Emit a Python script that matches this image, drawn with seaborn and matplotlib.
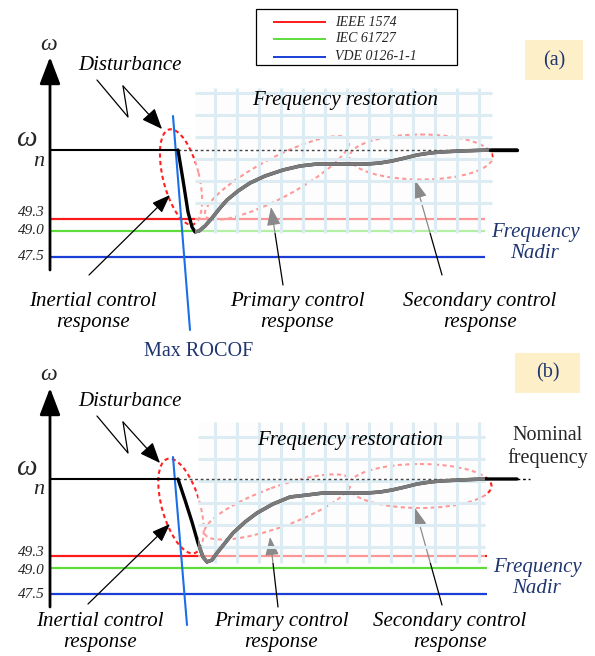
import numpy as np
import pandas as pd
import seaborn as sns
import matplotlib.pyplot as plt
from matplotlib.patches import Ellipse, Rectangle

# schematic drawn in pixel units of the 595x656 canvas
standards = ["IEEE 1574", "IEC 61727", "VDE 0126-1-1"]
std_colors = ["#ff1a1a", "#5fdc3c", "#1a3fd6"]
tick_labels = ["49.3", "49.0", "47.5"]

# level rows (red, green, blue) and nominal row for each panel
levels_a = [219, 231, 257]
levels_b = [556, 568, 594]
label_rows_a = [212, 231, 257]
label_rows_b = [552, 570, 595]
nominal_a = 150
nominal_b = 479

# frequency trajectory, panel (a)
curve_a_x = [178, 183, 188, 192, 195, 199, 205, 212, 220, 227, 238, 250, 265, 283, 300,
             317, 340, 367, 380, 392, 405, 417, 430, 440, 460, 490, 517]
curve_a_y = [150, 180, 212, 227, 232, 231, 226, 218, 208, 200, 191, 183, 176, 170, 166,
             164, 164, 164, 163, 161, 158, 155, 153, 152, 151, 150, 150]
# frequency trajectory, panel (b)
curve_b_x = [178, 185, 192, 198, 203, 207, 212, 217, 225, 233, 245, 257, 273, 290, 307,
             323, 345, 367, 380, 392, 405, 417, 430, 440, 460, 483, 517]
curve_b_y = [479, 500, 522, 543, 557, 562, 560, 553, 543, 533, 522, 513, 504, 497, 495,
             493, 493, 493, 492, 490, 487, 484, 482, 481, 480, 479, 479]

# control regions (ellipses): centre x, centre y, length, width, angle
ell_a = [(181, 177, 98, 36, 76), (277, 178, 162, 40, -28), (421, 157, 143, 45, 0)]
ell_b = [(181, 506, 98, 38, 74), (278, 507, 156, 40, -20), (420, 486, 143, 44, 0)]

grid_cols = [215, 237, 259, 281, 303, 325, 347, 369, 391, 413, 435, 457, 479]
grid_rows_a = [93, 115, 137, 159, 181, 203]
grid_rows_b = [437, 459, 481, 503, 525, 547]

sns.set_theme(style="white")
plt.rcParams['font.family'] = ['Liberation Serif', 'DejaVu Serif']

fig = plt.figure(figsize=(5.95, 6.56), dpi=100)
ax = fig.add_axes([0, 0, 1, 1])
ax.set_xlim(0, 595)
ax.set_ylim(656, 0)
ax.axis("off")

dark_blue = "#1f3570"
fs = 15
arrow_style = "-|>,head_length=0.75,head_width=0.28"


def panel(top, nominal, levels, label_rows, cx, cy, ells, rows, region, rocof, zig,
          level_end, arrows, texts):
    x0, y0, x1, y1 = region
    # y axis with arrow
    ax.annotate("", xy=(50, top), xytext=(50, levels[2] + 13),
                arrowprops=dict(arrowstyle="-|>,head_length=1.1,head_width=0.42",
                                color="black", lw=2, mutation_scale=15, shrinkA=0, shrinkB=0))
    # level lines
    ax.hlines(levels, 50, level_end, colors=std_colors, lw=1.6, zorder=1)
    ax.hlines(nominal, 50, 178, colors="black", lw=1.5, zorder=4)
    for lab, lv in zip(tick_labels, label_rows):
        ax.text(45, lv, lab, ha="right", va="center", fontsize=11, style="italic")
    # ellipses
    for (ex, ey, ew, eh, ea) in ells:
        ax.add_patch(Ellipse((ex, ey), ew, eh, angle=ea, fill=False, ec="#ff2020",
                             lw=1.5, ls=(0, (2, 1.6)), zorder=1))
    # restoration region: translucent white with light blue grid
    ax.add_patch(Rectangle((x0, y0), x1 - x0, y1 - y0, fc="#fdfdfd", alpha=0.55,
                           ec="none", zorder=2))
    ax.vlines(grid_cols, y0, y1, colors="#dcecf2", lw=2.2, zorder=2.5)
    ax.hlines(rows, x0, x1, colors="#dcecf2", lw=2.2, zorder=2.5)
    ax.hlines(nominal, 178, x1, colors="#444444", lw=1, linestyles=(0, (2, 2)), zorder=3)
    # frequency curve
    df = pd.DataFrame({"t": cx, "f": cy})
    sns.lineplot(data=df, x="t", y="f", sort=False, color="black", lw=2.4, ax=ax, zorder=4)
    clip = Rectangle((x0, y0), x1 - x0, y1 - y0, transform=ax.transData)
    sns.lineplot(data=df, x="t", y="f", sort=False, color="#7a7a7a", lw=2.6, ax=ax, zorder=4.5)
    ax.lines[-1].set_clip_path(clip)
    # max ROCOF line
    ax.plot(rocof[0], rocof[1], color="#1a6fe8", lw=1.5, zorder=3)
    # disturbance zigzag
    ax.plot(zig[0][:3], zig[1][:3], color="black", lw=0.9, zorder=3)
    ax.annotate("", xy=(zig[0][3], zig[1][3]), xytext=(zig[0][2], zig[1][2]),
                arrowprops=dict(arrowstyle="-|>,head_length=0.85,head_width=0.35",
                                color="black", lw=0.9, mutation_scale=15, shrinkA=0, shrinkB=0))
    # annotation arrows
    for (hx, hy, tx, ty) in arrows:
        ax.annotate("", xy=(hx, hy), xytext=(tx, ty), zorder=1.5,
                    arrowprops=dict(arrowstyle=arrow_style, color="black", lw=0.9,
                                    mutation_scale=15, shrinkA=0, shrinkB=0))
    for (tx, ty, s, c) in texts:
        ax.text(tx, ty, s, ha="center", va="center", fontsize=fs, style="italic", color=c,
                linespacing=1.2)
    ax.text(49, top - 13, "ω", ha="center", va="center", fontsize=17, style="italic")
    ax.text(26, nominal - 11, "ω", ha="center", va="center", fontsize=21, style="italic")
    ax.text(39, nominal + 11, "n", ha="center", va="center", fontsize=16, style="italic")


panel(57, nominal_a, levels_a, label_rows_a, curve_a_x, curve_a_y, ell_a, grid_rows_a,
      (195, 88, 492, 233), ([173, 190], [116, 330]), ([97, 128, 123, 162], [80, 117, 86, 129]),
      485, [(170, 195, 89, 275), (271, 207, 283, 285), (415, 180, 442, 275)],
      [(130, 65, "Disturbance", "black"), (345, 101, "Frequency restoration", "black"),
       (93, 312, "Inertial control\nresponse", "black"),
       (297, 312, "Primary control\nresponse", "black"),
       (480, 312, "Secondary control\nresponse", "black"),
       (535, 243, "Frequency\nNadir", dark_blue)])
ax.plot([490, 517], [nominal_a, nominal_a], color="black", lw=2.4, zorder=5)

panel(388, nominal_b, levels_b, label_rows_b, curve_b_x, curve_b_y, ell_b, grid_rows_b,
      (198, 422, 485, 563), ([173, 187], [457, 625]), ([97, 128, 123, 160], [416, 453, 422, 463]),
      487, [(170, 524, 88, 604), (270, 537, 278, 607), (415, 508, 442, 605)],
      [(130, 402, "Disturbance", "black"), (350, 441, "Frequency restoration", "black"),
       (100, 632, "Inertial control\nresponse", "black"),
       (281, 632, "Primary control\nresponse", "black"),
       (450, 632, "Secondary control\nresponse", "black"),
       (537, 578, "Frequency\nNadir", dark_blue)])
ax.plot([517, 530], [nominal_b, nominal_b], color="black", lw=1, ls=(0, (2, 2)), zorder=5)
ax.text(548, 447, "Nominal\nfrequency", ha="center", va="center", fontsize=14.5,
        linespacing=1.2)

ax.text(199, 352, "Max ROCOF", ha="center", va="center", fontsize=14.5, color=dark_blue)

# panel tags
ax.add_patch(Rectangle((525, 40), 58, 40, fc="#fdefc8", ec="none"))
ax.text(554, 61, "(a)", ha="center", va="center", fontsize=14.5, color=dark_blue)
ax.add_patch(Rectangle((515, 353), 65, 40, fc="#fdefc8", ec="none"))
ax.text(548, 373, "(b)", ha="center", va="center", fontsize=14.5, color=dark_blue)

# standards legend (box with sample lines)
legend_rows = [22, 39, 57]
ax.add_patch(Rectangle((256, 9), 201, 56, fill=False, ec="black", lw=0.9, zorder=6))
ax.hlines(legend_rows, 273, 326, colors=std_colors, lw=1.4, zorder=6)
for name, ly in zip(standards, legend_rows):
    ax.text(335, ly, name, ha="left", va="center", fontsize=10, style="italic", zorder=6)

fig.savefig("out.png", dpi=100)
